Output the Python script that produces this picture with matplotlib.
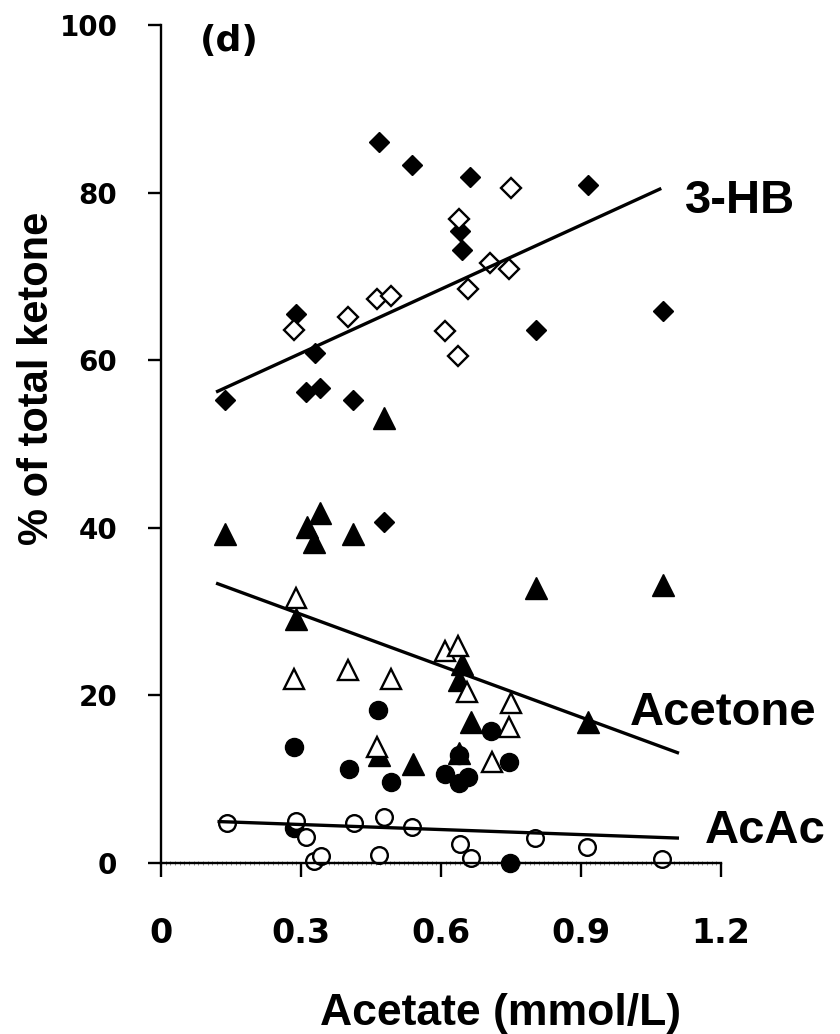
import matplotlib
matplotlib.use("Agg")
import matplotlib.pyplot as plt
from matplotlib.ticker import MultipleLocator
from matplotlib import font_manager

# ---------------- data ----------------
hb_filled_x = [0.467, 0.538, 0.662, 0.916, 0.641, 0.645, 0.290, 1.076, 0.803,
               0.329, 0.138, 0.311, 0.340, 0.412, 0.477]
hb_filled_y = [86.0, 83.3, 81.9, 80.9, 75.4, 73.2, 65.5, 65.9, 63.6,
               60.9, 55.3, 56.2, 56.7, 55.3, 40.7]
hb_open_x = [0.751, 0.639, 0.706, 0.745, 0.657, 0.463, 0.492, 0.401, 0.286, 0.608, 0.637]
hb_open_y = [80.5, 76.8, 71.6, 70.9, 68.5, 67.3, 67.7, 65.1, 63.6, 63.5, 60.5]

ace_filled_x = [0.477, 0.138, 0.340, 0.312, 0.327, 0.412, 0.804, 1.076, 0.289,
                0.645, 0.639, 0.664, 0.915, 0.467, 0.539, 0.639]
ace_filled_y = [53.1, 39.3, 41.8, 40.1, 38.3, 39.3, 32.8, 33.2, 29.1,
                23.8, 21.8, 16.8, 16.8, 12.9, 11.8, 13.1]
ace_open_x = [0.289, 0.608, 0.637, 0.284, 0.401, 0.492, 0.655, 0.750, 0.745, 0.463, 0.709]
ace_open_y = [31.6, 25.3, 25.9, 21.9, 23.0, 21.9, 20.4, 19.1, 16.2, 13.8, 12.1]

acac_filled_x = [0.464, 0.286, 0.403, 0.492, 0.707, 0.745, 0.608, 0.639, 0.657,
                 0.639, 0.748, 0.286]
acac_filled_y = [18.2, 13.9, 11.2, 9.7, 15.8, 12.1, 10.6, 9.5, 10.3,
                 12.9, 0.0, 4.2]
acac_open_x = [0.142, 0.290, 0.311, 0.414, 0.477, 0.538, 0.641, 0.664, 0.801,
               0.913, 1.073, 0.327, 0.342, 0.467]
acac_open_y = [4.8, 5.0, 3.1, 4.75, 5.5, 4.35, 2.3, 0.6, 3.0,
               1.9, 0.5, 0.2, 0.8, 0.9]

# trend lines (end points in data units)
hb_line_x = [0.118, 1.072]
hb_line_y = [56.2, 80.5]
ace_line_x = [0.118, 1.110]
ace_line_y = [33.4, 13.1]
acac_line_x = [0.121, 1.110]
acac_line_y = [4.95, 2.97]

x_ticks = [0, 0.3, 0.6, 0.9, 1.2]
x_ticklabels = ["0", "0.3", "0.6", "0.9", "1.2"]
y_ticks = [0, 20, 40, 60, 80, 100]
y_ticklabels = ["0", "20", "40", "60", "80", "100"]

series_labels = ["3-HB", "Acetone", "AcAc"]
label_pos_x = [1.123, 1.005, 1.165]
label_pos_y = [77.6, 16.5, 2.4]

panel_label = "(d)"
x_title = "Acetate (mmol/L)"
y_title = "% of total ketone"

# ---------------- fonts ----------------
names = {f.name for f in font_manager.fontManager.ttflist}
narrow_available = "Liberation Sans Narrow" in names

# ---------------- figure ----------------
fig = plt.figure(figsize=(8.4, 10.34), dpi=100)
ax = fig.add_axes([161 / 840, 1 - 863 / 1034, (721 - 161) / 840, (863 - 25) / 1034])

ax.set_xlim(0, 1.2)
ax.set_ylim(0, 100)

for s in ["top", "right"]:
    ax.spines[s].set_visible(False)
for s in ["left", "bottom"]:
    ax.spines[s].set_linewidth(1.7)
    ax.spines[s].set_color("black")

ax.set_xticks(x_ticks)
ax.set_xticklabels(x_ticklabels, fontfamily="DejaVu Sans", fontweight="bold", fontsize=24)
ax.set_yticks(y_ticks)
ax.set_yticklabels(y_ticklabels, fontfamily="DejaVu Sans", fontweight="bold", fontsize=20)
ax.tick_params(axis="x", which="major", direction="out", length=10, width=1.7, pad=29)
ax.tick_params(axis="y", which="major", direction="out", length=9.4, width=1.7, pad=22)
ax.xaxis.set_minor_locator(MultipleLocator(0.01))
ax.tick_params(axis="x", which="minor", direction="inout", length=3.5, width=0.5, color="0.4")

mk_common = dict(linestyle="none", clip_on=False)
# diamonds (3-HB)
ax.plot(hb_filled_x, hb_filled_y, marker="D", ms=10.5, mfc="black", mec="black", mew=1.0, zorder=2, **mk_common)
ax.plot(hb_open_x, hb_open_y, marker="D", ms=10, mfc="white", mec="black", mew=1.7, zorder=2.1, **mk_common)
# triangles (Acetone)
ax.plot(ace_filled_x, ace_filled_y, marker="^", ms=16, mfc="black", mec="black", mew=1.0, zorder=2, **mk_common)
ax.plot(ace_open_x, ace_open_y, marker="^", ms=15, mfc="white", mec="black", mew=1.7, zorder=2.1, **mk_common)
# circles (AcAc)
ax.plot(acac_filled_x, acac_filled_y, marker="o", ms=13, mfc="black", mec="black", mew=1.0, zorder=2, **mk_common)
ax.plot(acac_open_x, acac_open_y, marker="o", ms=12, mfc="white", mec="black", mew=1.7, zorder=2.1, **mk_common)

# trend lines
for lx, ly in [(hb_line_x, hb_line_y), (ace_line_x, ace_line_y), (acac_line_x, acac_line_y)]:
    ax.plot(lx, ly, color="black", lw=2.4, solid_capstyle="butt", zorder=3, clip_on=False)

# series labels
for lab, lx, ly in zip(series_labels, label_pos_x, label_pos_y):
    ax.text(lx, ly, lab, fontfamily="Liberation Sans", fontweight="bold", fontsize=34,
            ha="left", va="baseline", clip_on=False)

# panel label
fig.text(229 / 840, 1 - 41 / 1034, panel_label, fontfamily="DejaVu Sans", fontweight="bold",
         fontsize=26, ha="center", va="center")

# axis titles
fig.text(501 / 840, 1 - 1025 / 1034, x_title, fontfamily="Liberation Sans", fontweight="bold",
         fontsize=32, ha="center", va="baseline")
if narrow_available:
    fig.text(37 / 840, 1 - 378 / 1034, y_title, fontfamily="Liberation Sans Narrow",
             fontweight="bold", fontsize=37, rotation=90, ha="center", va="center")
else:
    fig.text(37 / 840, 1 - 378 / 1034, y_title, fontfamily="Liberation Sans",
             fontweight="bold", fontsize=30, rotation=90, ha="center", va="center")

fig.savefig("out.png", dpi=100, facecolor="white")
